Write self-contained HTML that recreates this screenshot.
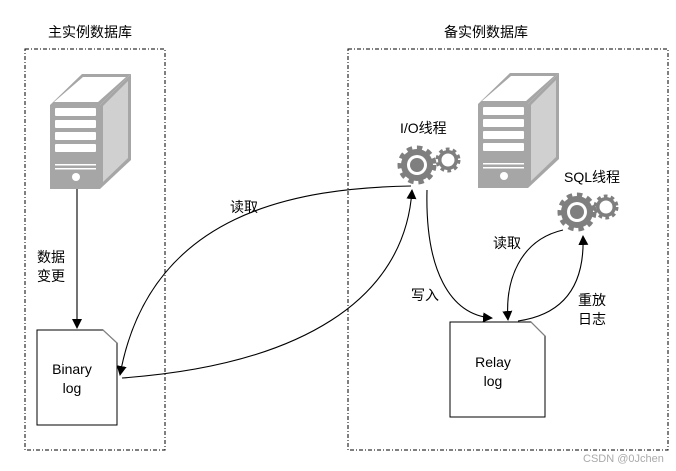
<!DOCTYPE html>
<html><head><meta charset="utf-8"><style>
body{margin:0;background:#fff;}
svg{display:block;font-family:"Liberation Sans","Noto Sans CJK SC",sans-serif;}
</style></head><body>
<svg width="676" height="471" viewBox="0 0 676 471">
<defs>
<marker id="a" markerWidth="10" markerHeight="10" refX="9" refY="5" orient="auto" markerUnits="userSpaceOnUse">
<path d="M0,0 L10,5 L0,10 z" fill="#000"/></marker>
<g id="srv">
<path d="M50,105 L82,74 L131,74 L100,105 z" fill="#a6a6a6"/>
<path d="M54,102 L83,77 L126,77 L98,102 z" fill="#fff"/>
<path d="M100,105 L131,74 L131,160 L100,189 z" fill="#a6a6a6"/>
<path d="M103,106 L128,81 L128,158 L103,182 z" fill="#d0d0d0"/>
<rect x="50" y="105" width="50" height="84" fill="#a6a6a6"/>
<rect x="55" y="108" width="41" height="8" rx="1" fill="#fff"/>
<rect x="55" y="120" width="41" height="8" rx="1" fill="#fff"/>
<rect x="55" y="132" width="41" height="8" rx="1" fill="#fff"/>
<rect x="55" y="144" width="41" height="8" rx="1" fill="#fff"/>
<rect x="55" y="164" width="41" height="1.5" fill="#fff"/>
<rect x="55" y="168" width="41" height="1.5" fill="#fff"/>
<circle cx="76" cy="177" r="4" fill="#fff"/>
</g>
<g id="bg">
<circle r="16" fill="#7f7f7f" stroke="#7f7f7f" stroke-width="7" stroke-dasharray="5 4.4"/>
<circle r="15" fill="#7f7f7f"/>
<circle r="10" fill="#fff"/>
<circle r="7" fill="#7f7f7f"/>
</g>
<g id="sg">
<circle r="10" fill="#7f7f7f" stroke="#7f7f7f" stroke-width="5" stroke-dasharray="3.4 3"/>
<circle r="6.5" fill="#fff"/>
</g>
</defs>
<rect x="25" y="49" width="140" height="401" fill="none" stroke="#000" stroke-dasharray="4 2 1 2"/>
<rect x="348" y="49" width="320" height="401" fill="none" stroke="#000" stroke-dasharray="4 2 1 2"/>
<text x="48" y="37" font-size="14">主实例数据库</text>
<text x="444" y="37" font-size="14">备实例数据库</text>
<use href="#srv"/>
<use href="#srv" x="428" y="-1"/>
<use href="#bg" x="417" y="165"/><use href="#sg" x="448" y="160"/>
<use href="#bg" x="577" y="212"/><use href="#sg" x="606" y="207"/>
<text x="400" y="133" font-size="14">I/O线程</text>
<text x="564" y="182" font-size="14">SQL线程</text>
<path d="M37,330 L103,330 L117,343 L117,425 L37,425 z" fill="#fff" stroke="#000"/>
<path d="M103,330 L117,343" stroke="#888"/>
<text x="72" y="374" font-size="14" text-anchor="middle">Binary</text>
<text x="72" y="393" font-size="14" text-anchor="middle">log</text>
<path d="M450,322 L531,322 L545,336 L545,417 L450,417 z" fill="#fff" stroke="#000"/>
<path d="M531,322 L545,336" stroke="#888"/>
<text x="493" y="367" font-size="14" text-anchor="middle">Relay</text>
<text x="493" y="386" font-size="14" text-anchor="middle">log</text>
<g fill="none" stroke="#000" stroke-width="1.1">
<path d="M77,189 L77,328" marker-end="url(#a)"/>
<path d="M411,186 C300,188 150,210 120,375" marker-end="url(#a)"/>
<path d="M122,378 C300,365 405,300 412,190" marker-end="url(#a)"/>
<path d="M427,190 C425,270 450,315 492,318" marker-end="url(#a)"/>
<path d="M563,230 C520,240 505,280 508,320" marker-end="url(#a)"/>
<path d="M518,321 C560,315 585,290 583,236" marker-end="url(#a)"/>
</g>
<text x="230" y="212" font-size="14">读取</text>
<text x="37" y="262" font-size="14">数据</text>
<text x="37" y="281" font-size="14">变更</text>
<text x="411" y="300" font-size="14">写入</text>
<text x="493" y="248" font-size="14">读取</text>
<text x="578" y="305" font-size="14">重放</text>
<text x="578" y="324" font-size="14">日志</text>
<text x="583" y="462" font-size="11" fill="#aaa">CSDN @0Jchen</text>
</svg>
</body></html>
